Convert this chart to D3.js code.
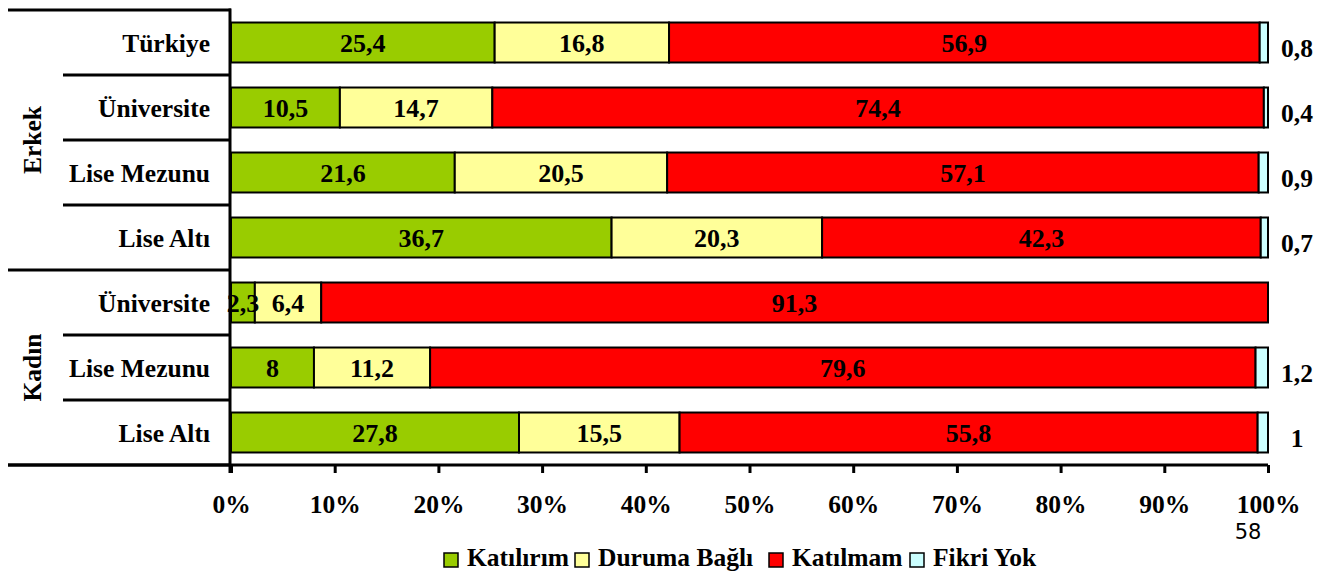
<!DOCTYPE html>
<html>
<head>
<meta charset="utf-8">
<script src="https://cdn.jsdelivr.net/npm/d3@7"></script>
<style>
  body { margin: 0; background: #fff; }
  svg text { font-family: "Liberation Serif", "Times New Roman", serif; font-weight: bold; fill: #000; }
</style>
</head>
<body>
<div id="chart"></div>
<script>
// row labels (top to bottom), group labels
const categories = ["Türkiye", "Üniversite", "Lise Mezunu", "Lise Altı", "Üniversite", "Lise Mezunu", "Lise Altı"];
const groups = [{name: "Erkek", from: 0, to: 3}, {name: "Kadın", from: 4, to: 6}];

// series values per row
const katilirim = [25.4, 10.5, 21.6, 36.7, 2.3, 8, 27.8];
const durumaBagli = [16.8, 14.7, 20.5, 20.3, 6.4, 11.2, 15.5];
const katilmam = [56.9, 74.4, 57.1, 42.3, 91.3, 79.6, 55.8];
const fikriYok = [0.8, 0.4, 0.9, 0.7, 0, 1.2, 1];

const seriesNames = ["Katılırım", "Duruma Bağlı", "Katılmam", "Fikri Yok"];
const colors = ["#99cc00", "#ffff99", "#ff0000", "#ccffff"];
const xTicks = [0, 0.1, 0.2, 0.3, 0.4, 0.5, 0.6, 0.7, 0.8, 0.9, 1];

const W = 1335, H = 571;
const plotLeft = 231, plotRight = 1268, plotTop = 10, plotBottom = 465;
const fs = 25.5;

const rows = categories.map((c, i) => ({
    i: i, k0: katilirim[i], k1: durumaBagli[i], k2: katilmam[i], k3: fikriYok[i]
}));
const keys = ["k0", "k1", "k2", "k3"];

const stack = d3.stack().keys(keys).offset(d3.stackOffsetExpand);
const stacked = stack(rows);

const x = d3.scaleLinear().domain([0, 1]).range([plotLeft, plotRight]);
const y = d3.scaleBand().domain(d3.range(categories.length)).range([plotTop, plotBottom])
    .paddingInner(0.385).paddingOuter(0.1925);

const svg = d3.select("#chart").append("svg")
    .attr("width", W).attr("height", H);

// bars
const layers = svg.selectAll("g.layer")
    .data(stacked).enter().append("g")
    .attr("class", "layer")
    .attr("fill", (d, i) => colors[i]);

layers.selectAll("rect")
    .data(d => d).enter().append("rect")
    .attr("x", d => x(d[0]))
    .attr("y", d => y(d.data.i))
    .attr("width", d => x(d[1]) - x(d[0]))
    .attr("height", y.bandwidth())
    .attr("stroke", "#000")
    .attr("stroke-width", 2);

// value labels inside bars (first three series)
stacked.slice(0, 3).forEach((layer, si) => {
    svg.append("g").selectAll("text")
        .data(layer).enter().append("text")
        .attr("x", d => (x(d[0]) + x(d[1])) / 2)
        .attr("y", d => y(d.data.i) + y.bandwidth() / 2)
        .attr("dy", "0.36em")
        .attr("text-anchor", "middle")
        .attr("font-size", 26)
        .text(d => String(d.data[keys[si]]).replace(".", ","));
});

// fikri yok labels outside
svg.append("g").selectAll("text")
    .data(rows.filter(d => d.k3 > 0)).enter().append("text")
    .attr("x", 1297)
    .attr("y", d => y(d.i) + y.bandwidth() / 2 + 6)
    .attr("dy", "0.35em")
    .attr("text-anchor", "middle")
    .attr("font-size", fs)
    .text(d => String(d.k3).replace(".", ","));

// category labels
svg.append("g").selectAll("text")
    .data(categories).enter().append("text")
    .attr("x", 210)
    .attr("y", (d, i) => y(i) + y.bandwidth() / 2)
    .attr("dy", "0.36em")
    .attr("text-anchor", "end")
    .attr("font-size", fs)
    .text(d => d);

// separator lines in label area
const step = y.step();
const sepYs = d3.range(categories.length + 1).map(i => plotTop + i * step);
svg.append("g").selectAll("line")
    .data(sepYs).enter().append("line")
    .attr("x1", (d, i) => (i === 0 || i === 4 || i === categories.length) ? 8 : 63)
    .attr("x2", plotLeft)
    .attr("y1", d => d).attr("y2", d => d)
    .attr("stroke", "#000").attr("stroke-width", 3);

// group labels (rotated)
svg.append("g").selectAll("text")
    .data(groups).enter().append("text")
    .attr("transform", d => {
        const cy = (plotTop + d.from * step + plotTop + (d.to + 1) * step) / 2;
        return `translate(32, ${cy}) rotate(-90)`;
    })
    .attr("dy", "0.35em")
    .attr("text-anchor", "middle")
    .attr("font-size", fs)
    .text(d => d.name);

// x axis
const xAxis = svg.append("g")
    .attr("transform", `translate(0, ${plotBottom})`)
    .call(d3.axisBottom(x).tickValues(xTicks).tickFormat(d3.format(".0%")).tickSize(8).tickPadding(22));
xAxis.select(".domain").remove();
xAxis.selectAll(".tick line").attr("stroke", "#000").attr("stroke-width", 3);
xAxis.selectAll(".tick text")
    .attr("font-size", fs)
    .attr("font-family", "Liberation Serif")
    .attr("font-weight", "bold");

svg.append("line")
    .attr("x1", 8).attr("x2", plotRight)
    .attr("y1", plotBottom).attr("y2", plotBottom)
    .attr("stroke", "#000").attr("stroke-width", 3);
svg.append("line")
    .attr("x1", plotLeft - 1).attr("x2", plotLeft - 1)
    .attr("y1", plotTop - 1.5).attr("y2", plotBottom + 8)
    .attr("stroke", "#000").attr("stroke-width", 3);

// page number
svg.append("text")
    .attr("x", 1248).attr("y", 539)
    .attr("text-anchor", "middle")
    .style("font-family", "DejaVu Sans")
    .style("font-weight", "normal")
    .attr("font-size", 21)
    .text("58");

// legend
const legendX = [467, 598, 792, 933];
const legend = svg.append("g").selectAll("g")
    .data(seriesNames).enter().append("g")
    .attr("transform", (d, i) => `translate(${legendX[i]}, 0)`);
legend.append("rect")
    .attr("x", -23).attr("y", 553)
    .attr("width", 14).attr("height", 14)
    .attr("fill", (d, i) => colors[i])
    .attr("stroke", "#000").attr("stroke-width", 1.5);
legend.append("text")
    .attr("x", 0).attr("y", 566)
    .attr("font-size", fs)
    .text(d => d);
</script>
</body>
</html>
